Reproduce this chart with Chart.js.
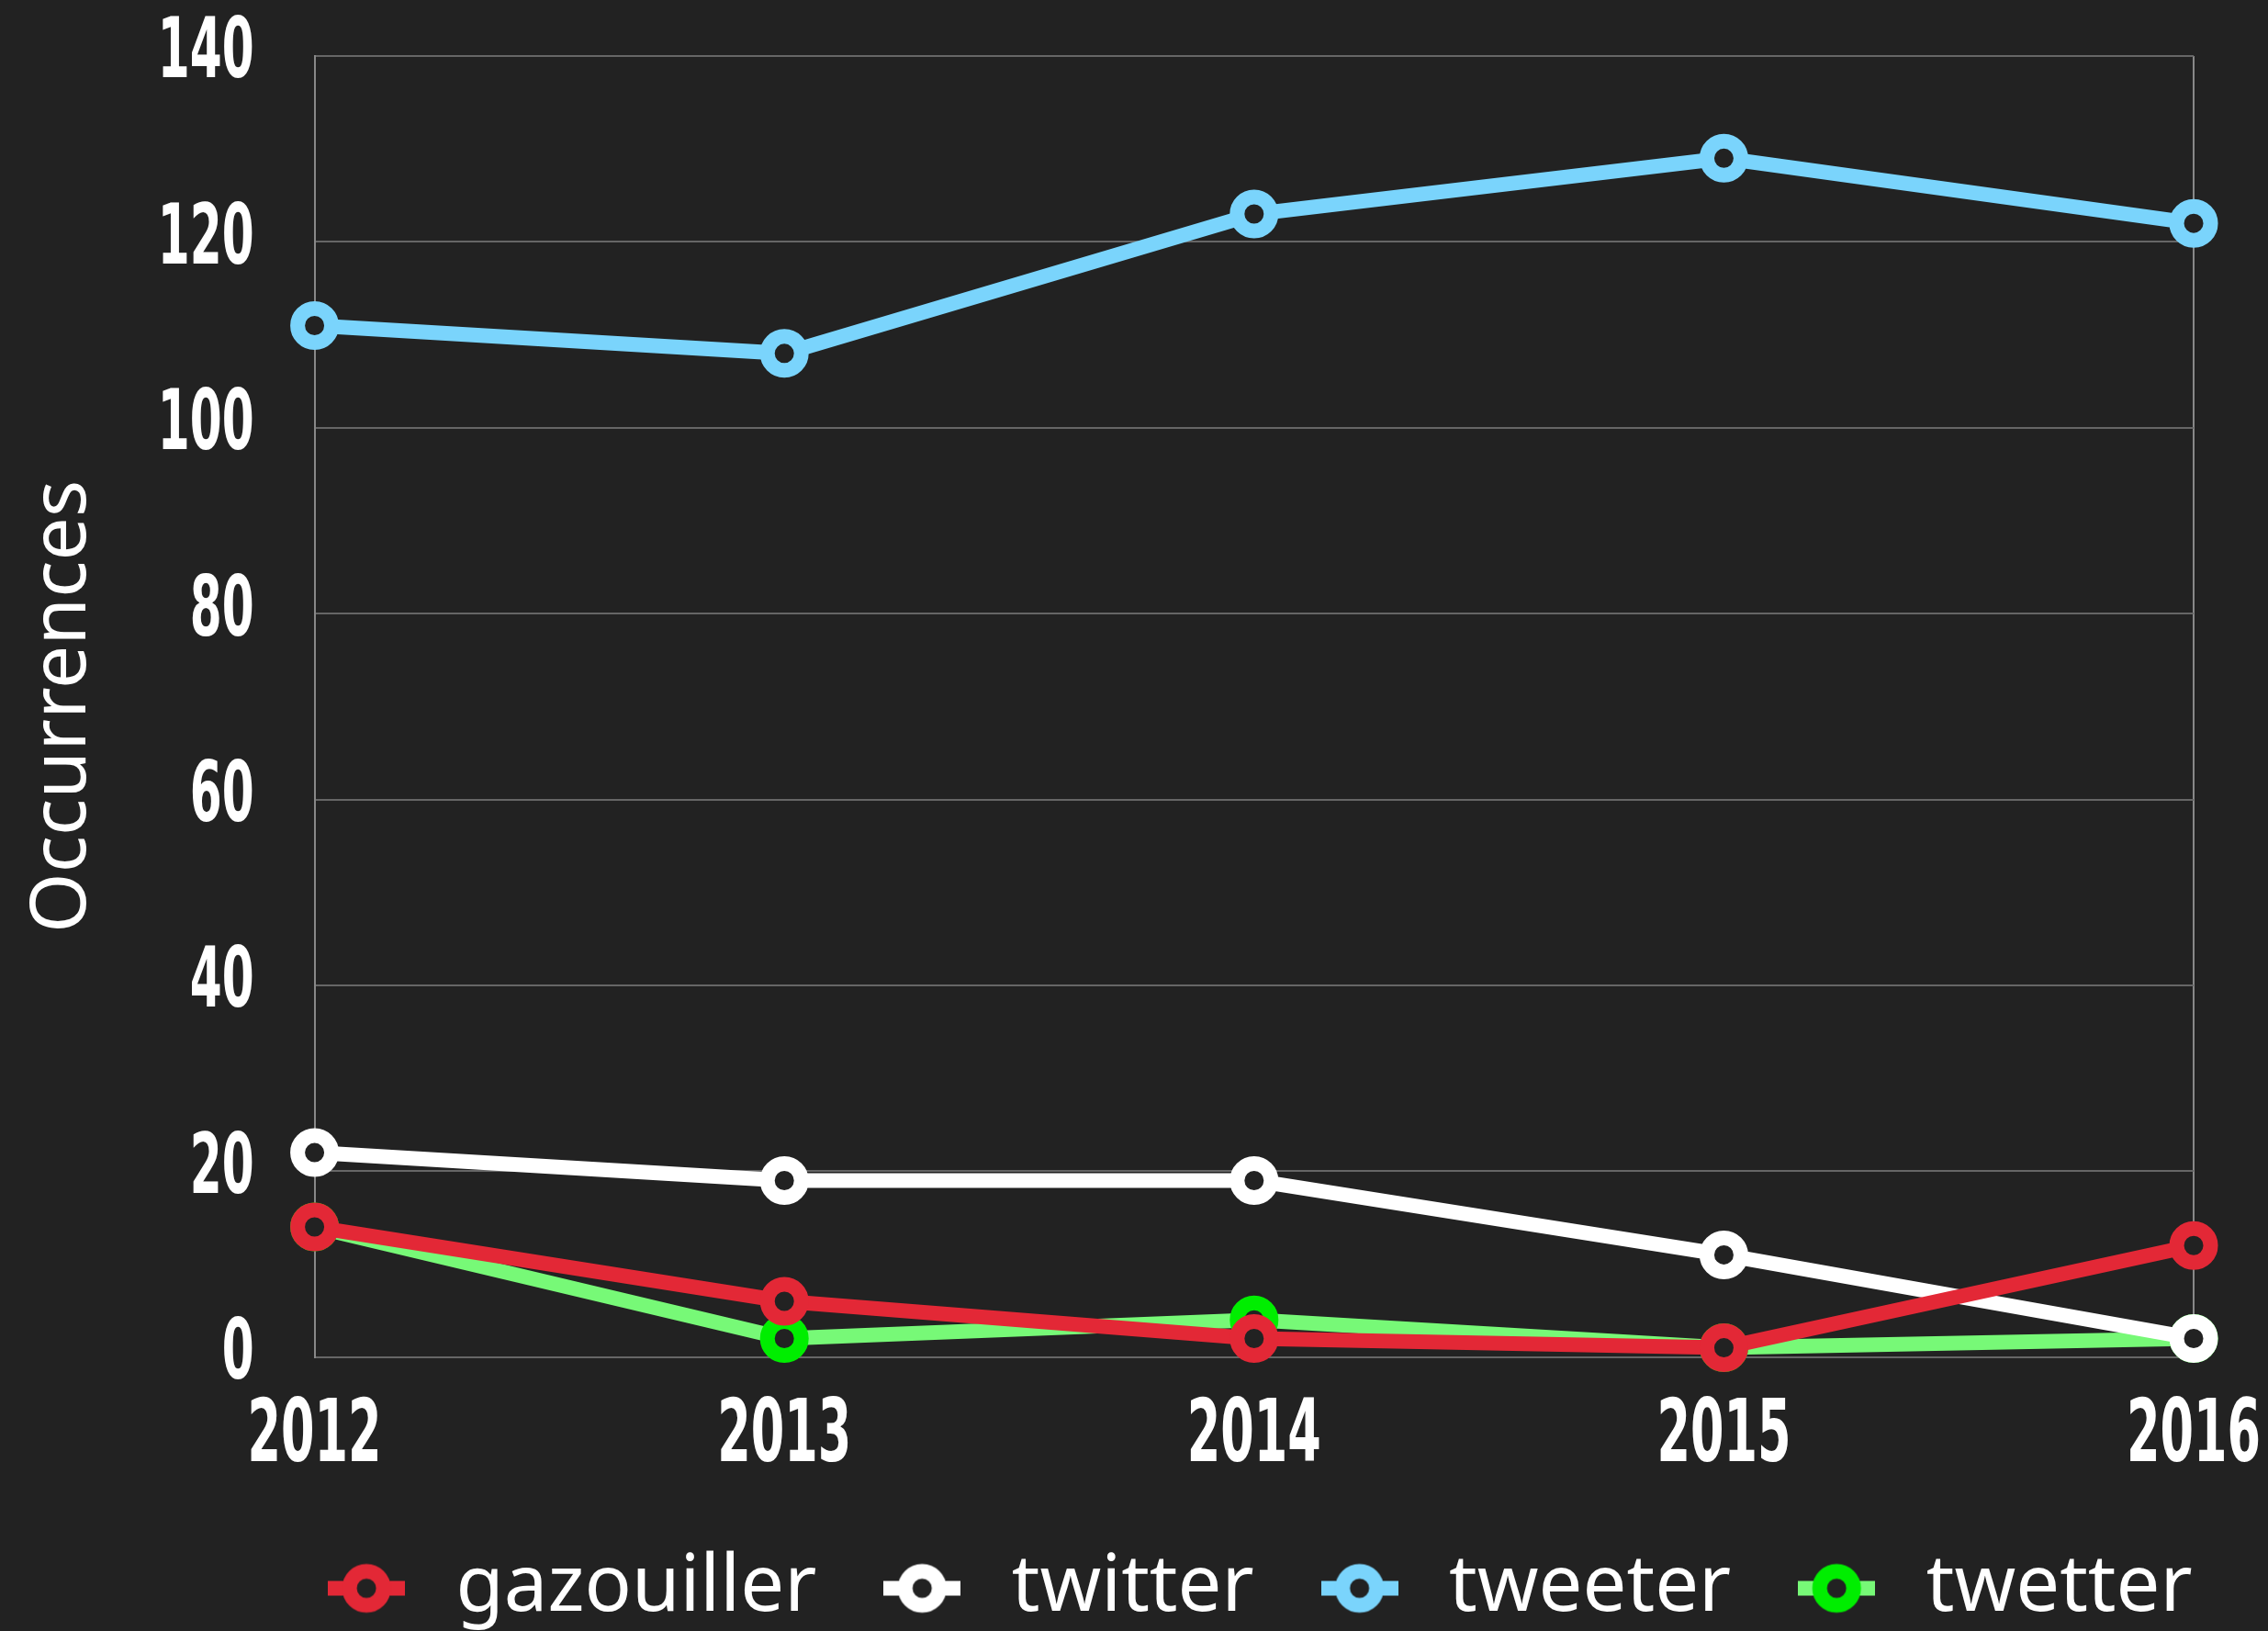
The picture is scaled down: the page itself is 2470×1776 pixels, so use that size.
<!DOCTYPE html>
<html>
<head>
<meta charset="utf-8">
<script src="https://cdn.jsdelivr.net/npm/chart.js@4/dist/chart.umd.min.js"></script>
<style>
  html, body { margin: 0; padding: 0; background: #222222; }
  #wrap { width: 2470px; height: 1776px; }
</style>
</head>
<body>
<div id="wrap"><canvas id="chart"></canvas></div>
<script>
const years = ["2012", "2013", "2014", "2015", "2016"];
const gazouiller = [14, 6, 2, 1, 12];
const twitter = [22, 19, 19, 11, 2];
const tweeter = [111, 108, 123, 129, 122];
const twetter = [14, 2, 4, 1, 2];
const yTicks = [0, 20, 40, 60, 80, 100, 120, 140];

const bg = "#222222";
const clear = "rgba(0,0,0,0)";
const narrowFamily = "'DejaVu Sans Condensed', sans-serif";

// no narrow font installed, so squeeze the condensed one horizontally
const SQUEEZE = 0.62;
const proto = CanvasRenderingContext2D.prototype;
const origFill = proto.fillText;
const origMeasure = proto.measureText;
proto.fillText = function (t, x, y, mw) {
    if (this.font.indexOf("Condensed") < 0) return origFill.call(this, t, x, y, mw);
    this.save();
    this.translate(x, y);
    this.scale(SQUEEZE, 1);
    origFill.call(this, t, 0, 0);
    this.restore();
};
proto.measureText = function (t) {
    const m = origMeasure.call(this, t);
    if (this.font.indexOf("Condensed") < 0) return m;
    return { width: m.width * SQUEEZE, actualBoundingBoxAscent: m.actualBoundingBoxAscent, actualBoundingBoxDescent: m.actualBoundingBoxDescent };
};

// legend marker: ring with a short line stub on each side
function marker(ring, stub) {
    const c = document.createElement("canvas");
    c.width = 84;
    c.height = 58;
    const g = c.getContext("2d");
    g.strokeStyle = stub;
    g.lineWidth = 16;
    g.beginPath();
    g.moveTo(0, 29);
    g.lineTo(84, 29);
    g.stroke();
    g.fillStyle = bg;
    g.beginPath();
    g.arc(42, 29, 18.5, 0, Math.PI * 2);
    g.fill();
    g.strokeStyle = ring;
    g.lineWidth = 16;
    g.stroke();
    return c;
}

function series(label, data, line, point) {
    return {
        label: label,
        data: data,
        borderColor: line,
        borderWidth: 16,
        pointBorderColor: point,
        pointBackgroundColor: bg,
        pointBorderWidth: 16,
        pointRadius: 18.5,
        pointHoverRadius: 18.5,
        tension: 0,
        clip: false,
        legendMarker: marker(point, line),
    };
}

const datasets = [
    series("gazouiller", gazouiller, "#e32836", "#e32836"),
    series("twitter", twitter, "#ffffff", "#ffffff"),
    series("tweeter", tweeter, "#7ad4fc", "#7ad4fc"),
    series("twetter", twetter, "#77f977", "#00ee00"),
];

// centre the legend under the plot area instead of the whole canvas
const legendUnderPlot = {
    id: "legendUnderPlot",
    afterLayout(chart) {
        const lg = chart.legend;
        const area = chart.chartArea;
        const dx = (area.left + area.right) / 2 - (lg.left + lg.right) / 2;
        lg.left += dx;
        lg.right += dx;
    },
};

new Chart(document.getElementById("chart"), {
    type: "line",
    data: { labels: years, datasets: datasets },
    plugins: [legendUnderPlot],
    options: {
        responsive: true,
        maintainAspectRatio: false,
        animation: false,
        events: [],
        layout: { autoPadding: false, padding: { top: 61, right: 0, left: 19, bottom: -6 } },
        plugins: {
            tooltip: { enabled: false },
            legend: {
                position: "bottom",
                labels: {
                    color: "#ffffff",
                    font: { family: "'Noto Sans', sans-serif", size: 85 },
                    usePointStyle: true,
                    pointStyleWidth: 110,
                    padding: 60,
                    generateLabels: (chart) => chart.data.datasets.map((ds, i) => ({
                        text: ds.label,
                        pointStyle: ds.legendMarker,
                        fontColor: "#ffffff",
                        datasetIndex: i,
                        lineWidth: 0,
                    })),
                },
            },
        },
        scales: {
            x: {
                offset: false,
                grid: {
                    drawTicks: true,
                    tickLength: 28,
                    tickColor: clear,
                    lineWidth: 2,
                    color: (ctx) => (ctx.index === 0 || ctx.index === years.length - 1) ? "#888888" : clear,
                },
                border: { display: false },
                ticks: { color: "#ffffff", font: { family: narrowFamily, size: 94, weight: "bold", lineHeight: 1.12 }, padding: 8, maxRotation: 0 },
            },
            y: {
                min: yTicks[0],
                max: yTicks[yTicks.length - 1],
                afterBuildTicks: (axis) => { axis.ticks = yTicks.map((v) => ({ value: v })); },
                grid: { drawTicks: true, tickLength: 66, tickColor: clear, lineWidth: 2, color: "#666666" },
                border: { display: true, color: "#888888", width: 2 },
                ticks: { color: "#ffffff", font: { family: narrowFamily, size: 90, weight: "bold", lineHeight: 0.6 }, padding: 0 },
                title: {
                    display: true,
                    text: "Occurrences",
                    color: "#ffffff",
                    font: { family: "'Noto Sans', sans-serif", size: 84 },
                    padding: { top: 0, bottom: 52 },
                },
            },
        },
    },
});
</script>
</body>
</html>
